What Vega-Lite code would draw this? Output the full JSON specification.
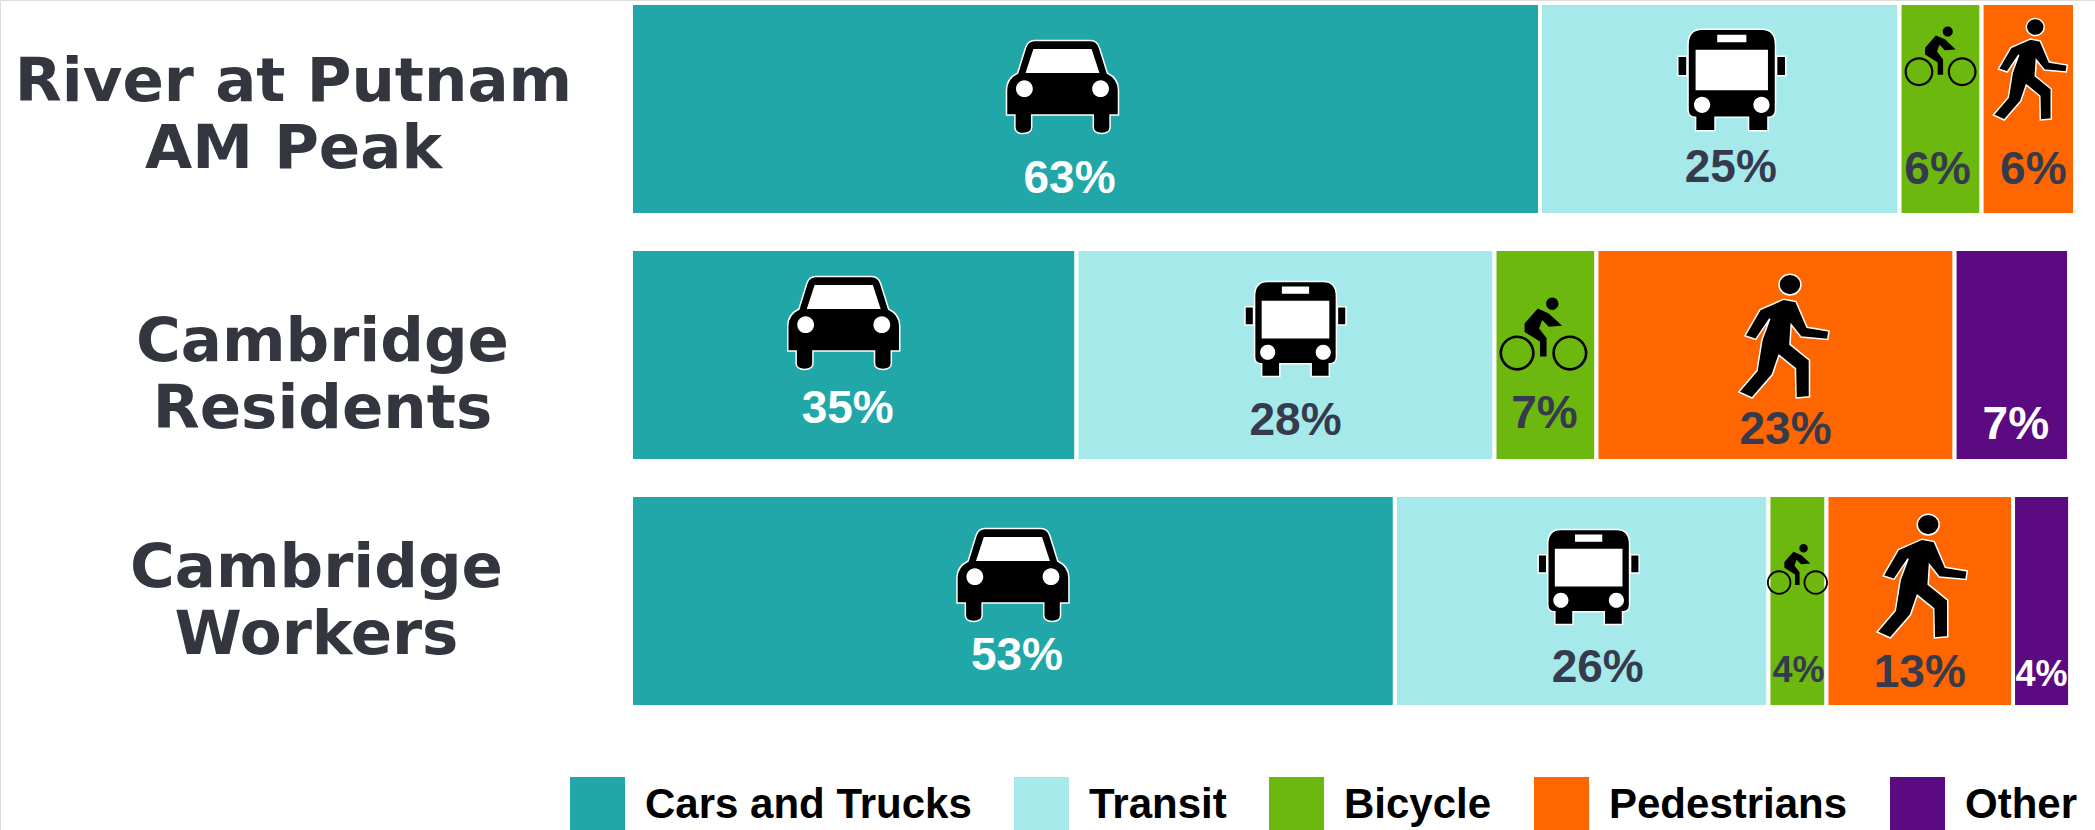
{
"$schema":"https://vega.github.io/schema/vega-lite/v6.json",
"width":2095,"height":830,"padding":0,"autosize":{"type":"none"},"background":"white",
"params":[
{"name":"rows","value":["River at Putnam|AM Peak","Cambridge|Residents","Cambridge|Workers"]},
{"name":"modes","value":["Cars and Trucks","Transit","Bicycle","Pedestrians","Other"]},
{"name":"iconDx","value":[[-23,12,0,5,0],[-10,10,-2,12,0],[0,7,0,6,0]]},
{"name":"iconDy","value":[[-22,-29,-52,-39,0],[-32,-26,-20,-18,0],[-26,-24,-31,-24,0]]},
{"name":"iconW","value":[[112,108,72,100,1],[112,101,88,122,1],[112,101,61,122,1]]},
{"name":"labelDx","value":[[-16,11,-3,5,0],[-6,10,-1,10,4],[4,16,1,0,0]]},
{"name":"labelDy","value":[[70,59,61,61,0],[54,66,59,75,70],[55,67,70,72,74]]}
],
"data":{"values":[
{"row":"River at Putnam|AM Peak","mode":"Cars and Trucks","seq":1,"share":62.95,"label":"63%"},
{"row":"River at Putnam|AM Peak","mode":"Transit","seq":2,"share":24.9,"label":"25%"},
{"row":"River at Putnam|AM Peak","mode":"Bicycle","seq":3,"share":5.68,"label":"6%"},
{"row":"River at Putnam|AM Peak","mode":"Pedestrians","seq":4,"share":6.47,"label":"6%"},
{"row":"Cambridge|Residents","mode":"Cars and Trucks","seq":1,"share":30.85,"label":"35%"},
{"row":"Cambridge|Residents","mode":"Transit","seq":2,"share":28.95,"label":"28%"},
{"row":"Cambridge|Residents","mode":"Bicycle","seq":3,"share":7.06,"label":"7%"},
{"row":"Cambridge|Residents","mode":"Pedestrians","seq":4,"share":24.8,"label":"23%"},
{"row":"Cambridge|Residents","mode":"Other","seq":5,"share":7.93,"label":"7%"},
{"row":"Cambridge|Workers","mode":"Cars and Trucks","seq":1,"share":52.9,"label":"53%"},
{"row":"Cambridge|Workers","mode":"Transit","seq":2,"share":25.87,"label":"26%"},
{"row":"Cambridge|Workers","mode":"Bicycle","seq":3,"share":4.02,"label":"4%"},
{"row":"Cambridge|Workers","mode":"Pedestrians","seq":4,"share":12.92,"label":"13%"},
{"row":"Cambridge|Workers","mode":"Other","seq":5,"share":3.95,"label":"4%"}
]},
"encoding":{
"y":{"field":"row","type":"nominal","sort":null,
"scale":{"type":"band","domain":["River at Putnam|AM Peak","Cambridge|Residents","Cambridge|Workers"],"range":[3,707],"paddingInner":0.1382,"paddingOuter":0},
"axis":{"orient":"left","offset":-310,"title":null,"domain":false,"ticks":false,"tickSize":0,"labelFont":"DejaVu Sans","labelFontSize":61,"labelFontWeight":"bold","labelColor":"#33363f","labelAlign":"center","labelBaseline":"middle","labelLineHeight":67,"labelLimit":0,"labelBound":false,"labelOverlap":false,"labelExpr":"split(datum.label,'|')",
"labelPadding":{"condition":[{"test":"datum.label==='River at Putnam|AM Peak'","value":17},{"test":"datum.label==='Cambridge|Residents'","value":-12}],"value":-6},
"labelOffset":{"condition":[{"test":"datum.label==='River at Putnam|AM Peak'","value":-26},{"test":"datum.label==='Cambridge|Residents'","value":-12}],"value":-32}}},
"order":{"field":"seq","type":"quantitative"},
"detail":{"field":"mode"}
},
"resolve":{"scale":{"shape":"independent"}},
"layer":[
{"mark":{"type":"bar","stroke":"white","strokeWidth":4},
"encoding":{
"x":{"field":"share","type":"quantitative","stack":"zero","scale":{"domain":[0,100],"range":[631,2075]},"axis":null},
"color":{"field":"mode","type":"nominal","scale":{"domain":["Cars and Trucks","Transit","Bicycle","Pedestrians","Other"],"range":["#22a7a8","#a6e9eb","#6cb80f","#ff6600","#5b0a82"]},
"legend":{"orient":"none","legendX":570,"legendY":777,"direction":"horizontal","columns":5,"gridAlign":"each","title":null,"symbolType":"square","symbolSize":3025,"symbolStrokeWidth":0,"symbolOffset":0,"labelFont":"Liberation Sans","labelFontSize":42,"labelFontWeight":"bold","labelColor":"#000000","labelOffset":20,"columnPadding":42,"labelLimit":0,"padding":0}}}},
{"mark":{"type":"point","filled":true,"fill":"black","fillOpacity":1,"opacity":1,"strokeWidth":1.5,
"size":{"expr":"pow(iconW[indexof(rows,datum.row)][indexof(modes,datum.mode)],2)"},
"xOffset":{"expr":"iconDx[indexof(rows,datum.row)][indexof(modes,datum.mode)]"},
"yOffset":{"expr":"iconDy[indexof(rows,datum.row)][indexof(modes,datum.mode)]"}},
"encoding":{
"x":{"field":"share","type":"quantitative","stack":"zero","bandPosition":0.5,"scale":{"domain":[0,100],"range":[631,2075]},"axis":null},
"stroke":{"condition":{"test":"datum.mode==='Bicycle'","value":"transparent"},"value":"white"},
"shape":{"field":"mode","type":"nominal","legend":null,"scale":{"domain":["Cars and Trucks","Transit","Bicycle","Pedestrians","Other"],"range":[
"M-0.5,-0.83 L0.5,-0.83 Q0.62,-0.83 0.66,-0.7 L0.8,-0.25 Q1,-0.15 1,0.05 L1,0.5 L0.85,0.5 L0.85,0.72 Q0.85,0.83 0.7,0.83 Q0.55,0.83 0.55,0.72 L0.55,0.5 L-0.55,0.5 L-0.55,0.72 Q-0.55,0.83 -0.7,0.83 Q-0.85,0.83 -0.85,0.72 L-0.85,0.5 L-1,0.5 L-1,0.05 Q-1,-0.15 -0.8,-0.25 L-0.66,-0.7 Q-0.62,-0.83 -0.5,-0.83 Z",
"M-0.55,-0.94 L0.55,-0.94 Q0.81,-0.94 0.81,-0.65 L0.81,0.55 Q0.81,0.69 0.67,0.69 L0.67,0.94 L0.31,0.94 L0.31,0.69 L-0.31,0.69 L-0.31,0.94 L-0.67,0.94 L-0.67,0.69 Q-0.81,0.69 -0.81,0.55 L-0.81,-0.65 Q-0.81,-0.94 -0.55,-0.94 Z M-1,-0.44 L-0.83,-0.44 L-0.83,-0.08 L-1,-0.08 Z M0.83,-0.44 L1,-0.44 L1,-0.08 L0.83,-0.08 Z",
"M-1,0.41 A0.4,0.4 0 1 1 -0.2,0.41 A0.4,0.4 0 1 1 -1,0.41 Z M-0.94,0.41 A0.34,0.34 0 1 0 -0.26,0.41 A0.34,0.34 0 1 0 -0.94,0.41 Z M0.2,0.41 A0.4,0.4 0 1 1 1,0.41 A0.4,0.4 0 1 1 0.2,0.41 Z M0.26,0.41 A0.34,0.34 0 1 0 0.94,0.41 A0.34,0.34 0 1 0 0.26,0.41 Z M0.06,-0.71 A0.14,0.14 0 1 1 0.34,-0.71 A0.14,0.14 0 1 1 0.06,-0.71 Z M-0.13,-0.6 L0.12,-0.49 L0.37,-0.26 L0.42,-0.21 L0.12,-0.19 L-0.03,-0.34 L-0.1,-0.15 L0.07,0.07 L0.07,0.49 L-0.08,0.49 L-0.08,0.15 L-0.43,-0.07 L-0.43,-0.26 Z",
"M-0.14,-0.86 A0.18,0.17 0 1 1 0.22,-0.86 A0.18,0.17 0 1 1 -0.14,-0.86 Z M-0.06,-0.62 L0.14,-0.58 L0.32,-0.16 L0.68,-0.1 L0.66,0.04 L0.22,0 L0.06,-0.2 L0.04,0.12 L0.36,0.38 L0.36,0.98 L0.14,1 L0.13,0.52 L-0.14,0.3 L-0.25,0.62 L-0.58,1 L-0.8,0.9 L-0.5,0.55 L-0.42,0.05 L-0.29,-0.3 L-0.52,0.04 L-0.7,-0.02 L-0.45,-0.45 Z",
"M0,0"]}}}},
{"mark":{"type":"point","filled":true,"fill":"white","fillOpacity":1,"opacity":1,"strokeWidth":0,
"size":{"expr":"pow(iconW[indexof(rows,datum.row)][indexof(modes,datum.mode)],2)"},
"xOffset":{"expr":"iconDx[indexof(rows,datum.row)][indexof(modes,datum.mode)]"},
"yOffset":{"expr":"iconDy[indexof(rows,datum.row)][indexof(modes,datum.mode)]"}},
"encoding":{
"x":{"field":"share","type":"quantitative","stack":"zero","bandPosition":0.5,"scale":{"domain":[0,100],"range":[631,2075]},"axis":null},
"shape":{"field":"mode","type":"nominal","legend":null,"scale":{"domain":["Cars and Trucks","Transit","Bicycle","Pedestrians","Other"],"range":[
"M-0.52,-0.68 L0.52,-0.68 L0.66,-0.25 L-0.66,-0.25 Z M-0.83,0.03 A0.15,0.15 0 1 1 -0.53,0.03 A0.15,0.15 0 1 1 -0.83,0.03 Z M0.53,0.03 A0.15,0.15 0 1 1 0.83,0.03 A0.15,0.15 0 1 1 0.53,0.03 Z",
"M-0.67,-0.56 L0.67,-0.56 L0.67,0.19 L-0.67,0.19 Z M-0.27,-0.84 L0.27,-0.84 L0.27,-0.7 L-0.27,-0.7 Z M-0.7,0.46 A0.15,0.15 0 1 1 -0.4,0.46 A0.15,0.15 0 1 1 -0.7,0.46 Z M0.4,0.46 A0.15,0.15 0 1 1 0.7,0.46 A0.15,0.15 0 1 1 0.4,0.46 Z",
"M0,0","M0,0","M0,0"]}}}},
{"mark":{"type":"text","font":"Liberation Sans","fontWeight":"bold",
"fontSize":{"expr":"datum.share<4.1 ? 36 : 46"},
"xOffset":{"expr":"labelDx[indexof(rows,datum.row)][indexof(modes,datum.mode)]"},
"yOffset":{"expr":"labelDy[indexof(rows,datum.row)][indexof(modes,datum.mode)]"}},
"encoding":{
"x":{"field":"share","type":"quantitative","stack":"zero","bandPosition":0.5,"scale":{"domain":[0,100],"range":[631,2075]},"axis":null},
"text":{"field":"label"},
"color":{"condition":{"test":"datum.mode==='Cars and Trucks'||datum.mode==='Other'","value":"#ffffff"},"value":"#353b4d"}}}
]
}
